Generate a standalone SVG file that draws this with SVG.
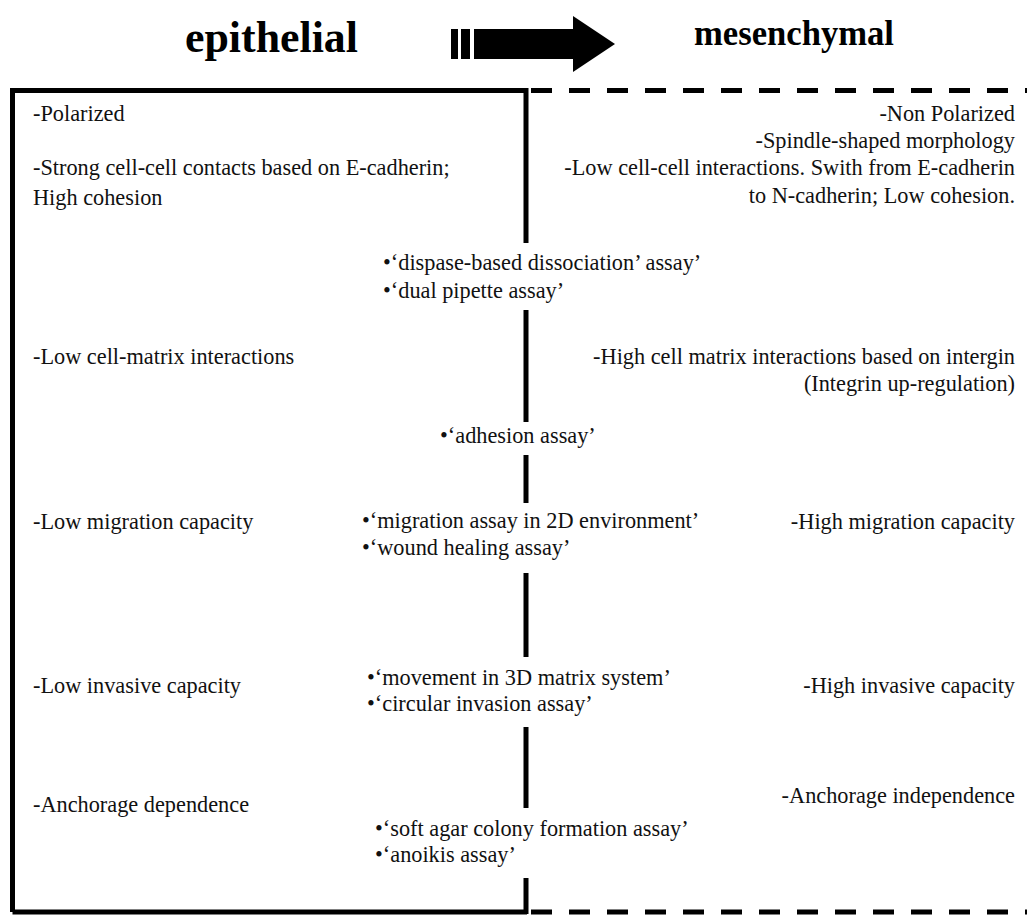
<svg xmlns="http://www.w3.org/2000/svg" width="1027" height="915" viewBox="0 0 1027 915">
<style>
.t{font-family:"Liberation Serif","Times New Roman",serif;font-size:22.3px;fill:#111}
.r{text-anchor:end}
.h{font-family:"Liberation Serif","Times New Roman",serif;font-weight:bold;fill:#000}
.solid{stroke:#000;stroke-width:5;fill:none}
.dash{stroke:#000;stroke-width:5;fill:none;stroke-dasharray:21 17}
</style>
<rect width="1027" height="915" fill="#fff"/>
<g id="header">
<text class="h" x="185" y="52" font-size="44" textLength="173" lengthAdjust="spacingAndGlyphs">epithelial</text>
<text class="h" x="694" y="45" font-size="35" textLength="200" lengthAdjust="spacingAndGlyphs">mesenchymal</text>
<g id="arrow" fill="#000">
<rect x="451" y="29" width="7" height="30"/>
<rect x="461" y="29" width="9" height="30"/>
<polygon points="474,29 573,29 573,16 615,44 573,72 573,59 474,59"/>
</g>
</g>
<g id="connectors">
<path class="solid" d="M12.5,912 V90.5 H527"/>
<path class="solid" d="M12.5,912 H527"/>
<path class="dash" d="M531,90.5 H1027"/>
<path class="dash" d="M531,912 H1027"/>
<path class="solid" d="M526,88 V243 M526,310 V422 M526,455 V503 M526,573 V657 M526,727 V808 M526,878 V914"/>
</g>
<g id="epithelial-traits">
<text class="t" x="33" y="121">-Polarized</text>
<text class="t" x="33" y="175">-Strong cell-cell contacts based on E-cadherin;</text>
<text class="t" x="33" y="205">High cohesion</text>
<text class="t" x="33" y="364">-Low cell-matrix interactions</text>
<text class="t" x="33" y="529">-Low migration capacity</text>
<text class="t" x="33" y="693">-Low invasive capacity</text>
<text class="t" x="33" y="812">-Anchorage dependence</text>
</g>
<g id="mesenchymal-traits">
<text class="t r" x="1015" y="121">-Non Polarized</text>
<text class="t r" x="1015" y="148">-Spindle-shaped morphology</text>
<text class="t r" x="1015" y="175">-Low cell-cell interactions. Swith from E-cadherin</text>
<text class="t r" x="1015" y="203">to N-cadherin; Low cohesion.</text>
<text class="t r" x="1015" y="364">-High cell matrix interactions based on intergin</text>
<text class="t r" x="1015" y="391">(Integrin up-regulation)</text>
<text class="t r" x="1015" y="529">-High migration capacity</text>
<text class="t r" x="1015" y="693">-High invasive capacity</text>
<text class="t r" x="1015" y="803">-Anchorage independence</text>
</g>
<g id="assays">
<text class="t" x="383" y="270">•‘dispase-based dissociation’ assay’</text>
<text class="t" x="383" y="298">•‘dual pipette assay’</text>
<text class="t" x="440" y="443">•‘adhesion assay’</text>
<text class="t" x="362" y="528">•‘migration assay in 2D environment’</text>
<text class="t" x="362" y="555">•‘wound healing assay’</text>
<text class="t" x="367" y="685">•‘movement in 3D matrix system’</text>
<text class="t" x="367" y="711">•‘circular invasion assay’</text>
<text class="t" x="375" y="836">•‘soft agar colony formation assay’</text>
<text class="t" x="375" y="862">•‘anoikis assay’</text>
</g>
</svg>
